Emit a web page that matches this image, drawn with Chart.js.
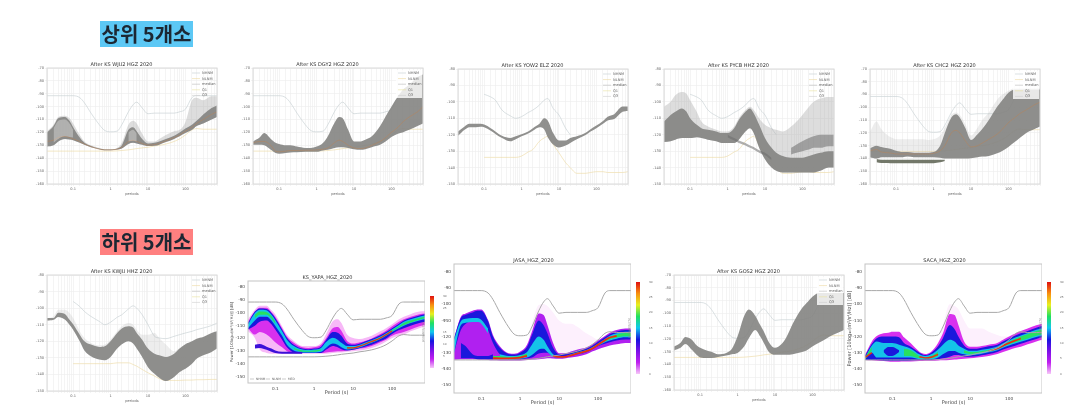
<!DOCTYPE html>
<html>
<head>
<meta charset="utf-8">
<script src="https://cdn.jsdelivr.net/npm/chart.js@4"></script>
<style>
    body { margin: 0; background: #fff; width: 1082px; height: 420px; overflow: hidden; position: relative; }
    canvas { position: absolute; filter: blur(0.55px); }
    .heading { position: absolute; left: 100px; width: 93px; height: 26px; text-align: center;
        font: bold 20px "Noto Sans CJK KR"; line-height: 26px; color: #1c2733; filter: blur(0.4px); }
</style>
</head>
<body>
<div class="heading" style="top:21px;background:#5cc8f5">상위 5개소</div>
<div class="heading" style="top:229px;background:#ff8080">하위 5개소</div>
<script>
// all series below share this period grid (seconds)
const periods = [0.02, 0.03, 0.04, 0.06, 0.08, 0.1, 0.15, 0.2, 0.3, 0.5, 0.7, 1, 1.5, 2, 3, 4, 5, 7, 10, 15, 20, 30, 50, 70, 100, 150, 200, 300, 500, 700];
const periodLabels = [0.1, 1, 10, 100];
const ticksWide = [-70, -80, -90, -100, -110, -120, -130, -140, -150, -160];
const ticksNarrow = [-80, -90, -100, -110, -120, -130, -140, -150];
const colourbarTicks = [0, 5, 10, 15, 20, 25, 30];
const colourbarStops = ['#f6c8f8', '#c020f0', '#7a10e8', '#1414e0', '#10c8f0', '#20e060', '#e8f020', '#f89010', '#e01010'];
const legendNames = ['NHNM', 'NLNM', 'median', 'Q1', 'Q3'];
const legendNamesShort = ['NHNM', 'NLNM', 'MED'];

const modelHigh = [-91.5, -91.5, -91.5, -91.5, -91.5, -91.5, -93, -97, -105, -114, -118.5, -119.5, -119, -114, -104, -98.5, -96.5, -101, -105.5, -105, -105, -105, -105, -104, -102, -93, -91.5, -91.5, -91.5, -91.5];
const modelLow = [-134.5, -134.5, -134.5, -134.5, -134.5, -134.5, -134.5, -134.5, -134.5, -134.5, -134.5, -134.5, -134.3, -134, -133.5, -133, -132.5, -132, -131.5, -130.5, -130, -129, -127, -125, -122, -118, -117, -117.5, -117.5, -117.5];
const stationHigh = [null, null, null, null, null, -95.4, -97, -99, -105, -108.5, -110, -109, -106.5, -105, -102, -99, -98, -104, -108, -116, -120, null, null, null, null, null, null, null, null, null];
const stationLow = [null, null, null, null, null, -133.8, -133.8, -133.8, -133.8, -133.8, -133.8, -133, -130.5, -129, -124, -122, -121, -126, -131, -137, -140, -143.5, -143.5, -143, -142.5, -142.5, -143, -143, -143, -142.5];
const kwjuHigh = [null, null, null, null, null, -96, -99, -102, -105, -108, -110, -108.5, -105.5, -104, -100.5, -98.6, -100, -104, -110, -117, -118, -118.4, -117, -116, -115, -114, -113, -112, -110.5, -109];
const kwjuLow = [null, null, null, null, null, -133.5, -133.5, -133.5, -133.5, -133.5, -133.5, -133.5, -133, -133, -133, -134, -135, -137, -139, -141, -142.5, -143.6, -143.6, -143.6, -143.4, -143.4, -143.2, -143.2, -143, -143];

const wju2Faint = [-119, -114, -108, -107, -109, -113, -122, -127, -130, -132, -133, -133, -132, -128, -114, -111, -113, -121, -127, -127, -125, -122, -119, -118, -112, -95, -93, -95, -92, -92];
const wju2High = [-120, -115, -109, -108, -111, -116, -124, -128, -130.5, -132.5, -133.2, -133.2, -132.5, -130, -118, -116, -119, -125, -128.5, -128, -127, -125, -122.5, -120, -117, -114, -111, -106, -101, -99];
const wju2Low = [-131, -130, -127, -125, -125.5, -126, -128, -129.5, -131.5, -133, -133.8, -133.8, -133.3, -132.5, -129, -128, -128.5, -129.5, -130.5, -130.3, -129.5, -127.5, -125, -123, -120.5, -118, -115, -113, -110, -108];
const wju2Median = [-127, -126, -124, -123, -124, -125, -127, -129, -131, -133, -133.5, -133.5, -133, -131.5, -127, -126, -127, -128.5, -129.8, -129.5, -128.5, -126.5, -124, -122, -119, -116, -113, -110, -106, -104];
const wju2InnerHigh = [null, -117, -111, -110, -113, -118, null, null, null, null, null, null, null, null, -120, -118, -121, null, null, null, null, null, null, null, null, null, null, null, null, null];
const wju2InnerLow = [null, -128, -125, -123, -123.5, -124, null, null, null, null, null, null, null, null, -127, -126.5, -127, null, null, null, null, null, null, null, null, null, null, null, null, null];

const dgy2High = [-127, -124, -120.5, -125, -128, -129, -130, -130, -131, -132, -132, -131, -128, -123, -112.7, -108, -109, -118, -127, -127, -125.7, -123, -115, -107.6, -100, -92, -87, -83, -77, -75];
const dgy2Low = [-129.6, -129.6, -130, -133.5, -136, -136.6, -136, -135.5, -135.3, -135, -135, -135, -134, -133.5, -132, -131.5, -131.5, -132, -133, -133.5, -133, -131.4, -129.6, -127, -123.6, -121, -120, -118, -115, -113];
const dgy2Median = [-128, -127, -127, -130, -134.5, -135, -134.5, -134, -134, -133.8, -133.8, -133.5, -133, -132, -128, -126, -127, -130, -132, -132.5, -132, -130, -127, -124, -120, -116, -112, -108, -104, -100];

const yow2High = [-118, -115, -113.4, -113.4, -113.4, -113.8, -116, -118, -120.7, -122, -121, -119.7, -118, -116, -113.4, -110, -111.4, -119, -123.5, -123.5, -122, -121, -119, -116.6, -114.4, -111.6, -109, -107.5, -102.9, -102.9];
const yow2Low = [-120.7, -117, -115.4, -115.4, -115.2, -115.4, -117.6, -119.5, -122, -124, -122.7, -121, -119.3, -117.6, -115.4, -116.6, -121.5, -126, -127.8, -126.6, -125, -122.7, -120.3, -118, -116, -113.4, -111.4, -110.5, -106, -105.5];

const pycbFaint = [-103, -100, -96, -94, -95, -99, -106, -112, -115, -117, -118, -118, -115, -110, -105, -103, -105, -110, -114, -116, -117, -118, -115, -112, -108, -103, -100, -98, -97, -97];
const pycbHigh = [-112, -108, -106, -104, -106, -110, -114, -116, -117, -118, -119, -119, -116, -111, -106, -104, -107, -114, -122, -128, -131, -133, -134, -134, -134, -133, -132, -131, -130, -130];
const pycbLow = [-124.5, -124, -123, -122, -122, -122, -121.5, -122, -123, -124, -125, -125, -125, -123, -118, -116, -119, -128, -135, -140, -142, -143, -143, -143, -143, -143, -143, -142, -140, -140];
const pycbStripeHigh = [null, null, null, null, null, null, null, null, null, null, null, -120, -122, -123.5, -125, -126.5, -127.5, -129.5, -131, -134, null, null, -128, -126, -124, -122, -121, -120, -120, -120];
const pycbStripeLow = [null, null, null, null, null, null, null, null, null, null, null, -121.5, -123.5, -125, -126.5, -128, -129, -131, -132.5, -135.5, null, null, -132, -131, -130, -129, -128, -128, -127, -127];

const chc2Faint = [-119, -111, -117, -122, -124, -125, -125, -125, -125, -125, -125.5, -125, -122, -116, -106, -104, -106, -113, -122, -116, -110, -104, -94, -90, -87, -85, -85, -85, -85, -85];
const chc2High = [-132, -130, -131, -132, -133, -134, -135, -135, -135.5, -135.5, -135.5, -135, -130, -120, -108, -105.5, -108, -116, -125.5, -121, -117, -110, -99.6, -94, -88.5, -86, -86, -86, -86, -86];
const chc2Low = [-139, -140, -139, -139, -139, -139, -139, -138.5, -139, -139, -139, -139, -139.5, -140, -140, -140, -140, -140, -139.8, -139, -138.5, -138, -136, -134, -131, -127, -124, -120, -117, -115];
const chc2TrackHigh = [null, -140.5, -141, -141, -141, -141, -141, -141, -141, -141, -141, -141, -141, -141, null, null, null, null, null, null, null, null, null, null, null, null, null, null, null, null];
const chc2TrackLow = [null, -143, -143.5, -143.5, -143.7, -143.7, -143.7, -143.7, -143.7, -143.7, -143.7, -143.7, -143, -142, null, null, null, null, null, null, null, null, null, null, null, null, null, null, null, null];
const chc2Median = [-134, -133, -135, -135.5, -136, -136.5, -136.5, -136.5, -136.5, -136.5, -136.5, -136, -134, -130, -120, -118, -120, -126, -131, -130, -128, -125, -121, -117, -112, -108, -105, -102, -98, -96];

const kwjuFaint = [-106, -105, -101, -101, -103, -106, -114, -118, -121, -122.5, -122, -119, -114, -111, -109, -110, -113, -116, -116, -115, -118, -122, -126, -124, -121.8, -120, -118.4, -117.4, -115, -114];
const kwjuBandHigh = [-106, -106, -102.8, -103.5, -107, -109.7, -116, -120, -122, -123.4, -123, -120, -115, -112.3, -111, -111.7, -115, -119, -124.4, -127.5, -128.5, -129.5, -127.5, -124.4, -121.8, -120, -118.4, -117.4, -115, -114];
const kwjuBandLow = [-107.5, -107, -105.3, -106.9, -110, -113, -120, -125.5, -129, -131, -131.5, -129.5, -124.4, -121.8, -120, -121.4, -124.4, -129.5, -135.6, -139.6, -142, -144, -141.6, -138.6, -136.6, -133.5, -130.5, -128.5, -126.5, -124.4];

const gos2High = [-126, -123, -118.6, -120.7, -125, -127, -129, -130, -132, -131, -128, -118, -102, -97, -102, -109, -114, -123, -127, -124, -119, -108, -97, -92, -87, -84, -84, -84, -84, -84];
const gos2Low = [-129, -127, -124, -128.5, -132.4, -134.5, -135, -135, -134.2, -133, -132, -131, -126, -119.5, -113, -118, -123, -130.5, -132.5, -132.5, -132.5, -132, -130.5, -129, -126, -123, -121, -118, -115, -113];

const yapaPinkHigh = [-105, -97.5, -94.4, -94.4, -98, -101, -110.5, -117, -122, -126, -126, -126, -123.6, -117, -106.6, -105, -108, -117, -119.7, -120.5, -119.7, -118, -114.5, -112, -109, -105, -103, -101, -99, -98.8];
const yapaPinkLow = [-114.5, -119.7, -128.8, -131.4, -132, -132, -132, -132, -132, -132, -132, -132, -132, -132, -131.4, -131, -131, -130.5, -130, -129.5, -129, -127.5, -125, -122.5, -119.7, -118, -117, -114.5, -112, -110.5];
const yapaMagentaHigh = [-107, -99, -96, -96, -99.5, -103, -112, -118.5, -123.5, -127, -127.5, -127, -125, -120, -112, -111, -114, -122, -124, -123, -122, -120, -116.5, -114, -110.5, -107, -105, -103, -101, -100.5];
const yapaMagentaLow = [-112, -117, -115, -117, -120, -123, -127, -130, -131.5, -131.5, -131.5, -131.5, -131.5, -131, -130.5, -130, -130, -129.5, -129, -128, -127.5, -126, -123, -121, -118, -116, -115, -113, -110.5, -109.5];
const yapaBlueHigh = [-108, -99, -96.5, -97, -100, -104, -113, -119.5, -125, -128, -128.5, -128, -126.5, -121.5, -115, -115.5, -118, -124, -125, -124, -122.5, -120.5, -117.5, -115, -112, -108.5, -106, -104, -102, -101];
const yapaBlueLow = [-113, -110, -107, -106, -109, -113, -121, -127, -131, -131.5, -131.5, -131.5, -131.5, -129, -126, -127, -128.5, -129.5, -129, -127.5, -126.5, -125, -122, -120, -116.5, -113.5, -112, -110, -108, -107];
const yapaCyanHigh = [-109, -100, -97.5, -98, -101.5, -105.5, -114.5, -121, -126, -128.8, -129.2, -128.8, -127.5, -123, -119.5, -121, -123.5, -126, -126, -125, -123.5, -121.5, -118.5, -116, -113, -109.5, -107, -105, -103, -102];
const yapaCyanLow = [-112, -106, -103, -103, -106, -110, -118, -125, -129.5, -131, -131, -131, -130.5, -127.5, -124, -125, -127, -128.8, -128.2, -127, -125.5, -123.5, -120.5, -118, -115, -112, -110, -108, -106, -105];
const yapaGreenHigh = [null, -101.5, -99, -99.5, -102.5, -107, null, null, -127.5, -129.5, -129.8, -129.5, -128.5, null, null, null, null, -127, -127, -125.8, -124.3, -122.2, -119.3, -116.8, -113.5, -110.5, -108, -106, -104, -103];
const yapaGreenLow = [null, -104, -101.5, -101.5, -104.5, -108.5, null, null, -128.5, -130.5, -130.5, -130.5, -129.5, null, null, null, null, -128.2, -127.8, -126.4, -124.9, -122.8, -120, -117.4, -114.5, -111.5, -109.5, -107.5, -105.3, -104.3];
const yapaHot = [null, null, null, null, null, null, null, null, null, null, null, null, null, null, null, null, null, -127.4, -127.4, -126, -124.6, -122.5, -119.7, -117.1, -114.2, null, null, null, null, null];
const yapaFloorHigh = [null, -125, -124.5, -126.5, -128, -129.5, -130.5, -130.5, -130.5, -130.5, null, null, null, null, null, null, null, null, null, null, null, null, null, null, null, null, null, null, null, null];
const yapaFloorLow = [null, -128, -127.5, -129, -130.5, -131.5, -132, -132, -132, -132, null, null, null, null, null, null, null, null, null, null, null, null, null, null, null, null, null, null, null, null];

const jasaPaleHigh = [-121, -107.7, -105.7, -104, -103.2, -103.2, -109.8, -119, -126, -130.3, -130.7, -129.3, -125, -112, -100.5, -100, -101, -105, -110, -112, -112, -114, -118, -120, -122, -119.6, -117.6, -116, -115, -115];
const jasaMagentaHigh = [-121, -107.7, -105.7, -104, -103.2, -103.2, -109.8, -119, -126, -130.3, -130.7, -129.3, -125, -117, -105.7, -106.7, -112.9, -124, -130.3, -130.3, -129.3, -128, -126.8, -125, -122.5, -119.6, -117.6, -116, -115, -115];
const jasaMagentaLow = [-134.4, -134, -134, -134, -134.2, -134.4, -134.5, -134.7, -134.8, -134.8, -134.8, -134.8, -134.6, -134.3, -134, -133.7, -133.4, -133.6, -133.8, -133.4, -133, -132.4, -131, -129.3, -127.8, -126.5, -125.6, -124.8, -124, -124];
const jasaBlueHigh = [-121, -108.5, -106.5, -105, -104, -104, -110.5, -120, -127, -130.8, -131.2, -130, -126.5, -119, -110, -113, -118, -127, -131, -131, -130, -128.8, -127.5, -125.8, -123.2, -120.5, -118.5, -117, -116, -116];
const jasaBlueLow = [-130, -116, -112, -110, -109, -110, -116, -124, -131, -134, -134, -134, -133.5, -133, -130.5, -130, -130, -132.5, -133, -132.5, -132, -131, -129.7, -128, -126, -124.5, -123.5, -122.5, -121.8, -121.8];
const jasaCyanHigh = [-122, -110.5, -109, -108.5, -108.5, -109.5, -115, null, -131, -132, -132, -131.5, -129.5, -125, -120, -122, -126, -131, -132, -132, -131, -129.8, -128.3, -126.7, -124.3, -121.5, -119.5, -118, -117, -117];
const jasaCyanLow = [-130, -113, -111.5, -111, -111, -112, -118, null, -133.5, -134, -134, -133.8, -133, -131.5, -128, -127.5, -129.5, -132.5, -133, -132.6, -132, -131, -129.5, -128, -125.7, -123.5, -122.4, -121.3, -120.5, -120.5];
const jasaGreenHigh = [null, null, null, null, null, null, null, -132, -132, -132.5, -132.5, -132, -130.5, null, null, null, null, -131.6, -132.4, -132.3, -131.4, -130.2, -128.7, -127.1, -124.7, -122, -120.3, -118.8, -117.8, -117.8];
const jasaGreenLow = [null, null, null, null, null, null, null, -134, -134, -134, -134, -133.5, -132.5, null, null, null, null, -132.2, -132.8, -132.4, -131.6, -130.6, -129.1, -127.6, -125.3, -123, -121.8, -120.6, -119.8, -119.8];
const jasaHot = [null, null, null, null, null, null, null, -133.4, -133.5, -133.5, -133.4, -133, -132, null, null, null, null, -132, -132.6, -132.4, -131.6, -130.5, -129, -127.5, -125, -122.3, -120.6, -119.5, null, null];
const jasaFloorHigh = [null, -124, -126, -131, -132, -132, -132, -131, null, null, null, null, null, null, null, null, null, null, null, null, null, null, null, null, null, null, null, null, null, null];
const jasaFloorLow = [null, -133.5, -133.5, -133.5, -134, -134, -134, -134, null, null, null, null, null, null, null, null, null, null, null, null, null, null, null, null, null, null, null, null, null, null];

const sacaPaleHigh = [-131.4, -123, -119.7, -118, -117.6, -117, -117, -120.5, -124.2, -129.4, -130.8, -129.4, -124, -113, -100, -101, -103, -110, -115, -115, -115, -117, -119, -120, -120, -118, -116.6, -115, -113, -112];
const sacaMagentaHigh = [-131.4, -123, -119.7, -118, -117.6, -117, -117, -120.5, -124.2, -129.4, -130.8, -129.4, -124, -118, -106, -106.7, -112.9, -123, -126.3, -126.3, -125.9, -125, -124, -122, -120, -118, -116.6, -115, -113, -112];
const sacaMagentaLow = [-134.5, -134.7, -135, -135.2, -135.4, -135.6, -135.6, -135.5, -135.4, -135.2, -135, -135, -134.8, -134.7, -134.5, -134.2, -134, -133.8, -133.5, -133, -132.6, -132, -130.8, -129.5, -128.3, -127, -126.3, -124.8, -123, -122];
const sacaBlueHigh = [-132, -124.5, -121, -120, -120, -120, -120.5, -124, -126.3, -130, -131.5, -130, -126, -121, -112.9, -115.5, -120, -125.5, -127.5, -127.5, -127, -126, -125, -123, -121.2, -119.2, -118, -116.5, -114.5, -113.5];
const sacaBlueLow = [-134.5, -134.5, -134.6, -134.8, -135, -135, -135, -135, -134.8, -134.5, -134.5, -134.5, -134, -133.5, -132.5, -131.5, -131.5, -132.5, -132.5, -132.2, -131.6, -130.8, -129.5, -128, -126.8, -125.5, -124.5, -123, -121.5, -120.5];
const sacaCyanHigh = [-133, -125.5, -123, -124, -124, -124, -125, -126, -127.5, -131, -132, -131, -128, -125, -122, -123, -125.5, -127.5, -128.8, -128.8, -128.2, -127.5, -126.2, -124.2, -122.5, -120.5, -119.3, -117.8, -115.8, -115];
const sacaCyanLow = [-134, -130, -133, -133, -133, -133, -133, -133, -133, -134, -134, -134, -133, -131, -129, -129, -130, -131, -131.6, -131.2, -130.6, -129.8, -128.5, -127, -125.6, -124.2, -123.2, -122, -120.3, -119.3];
const sacaHoleHigh = [null, null, null, -128.5, -126.5, -126.5, -128.5, null, null, null, null, null, null, null, null, null, null, null, null, null, null, null, null, null, null, null, null, null, null, null];
const sacaHoleLow = [null, null, null, -129.5, -132, -132, -129.5, null, null, null, null, null, null, null, null, null, null, null, null, null, null, null, null, null, null, null, null, null, null, null];
const sacaGreenHigh = [-133, -126.5, null, null, null, null, null, -127.5, -128.5, -132, -132.8, -132, -129.5, null, null, null, null, -128.5, -129.6, -129.6, -129, -128.3, -127, -125, -123.2, -121.2, -120, -118.6, -116.6, -115.8];
const sacaGreenLow = [-134, -129, null, null, null, null, null, -132, -132, -133.5, -133.5, -133.5, -132, null, null, null, null, -130.2, -130.8, -130.4, -129.8, -129, -127.7, -126.2, -124.8, -123.4, -122.4, -121.2, -119.5, -118.5];
const sacaHot = [-133, -130, null, null, null, null, null, null, null, -132.5, -133.2, -132.8, -131, null, null, null, null, null, null, null, null, -128.8, -127.4, -125.7, -124, -122.3, -121.2, null, null, null];

const fontName = '"DejaVu Sans"';
const grey = { core: 'rgba(132,132,130,0.9)', faint: 'rgba(170,170,170,0.4)', soft: 'rgba(175,175,175,0.22)', stripe: 'rgba(110,110,110,0.55)', high: '#c3ccd0', low: '#ecd9a0', median: 'rgba(190,130,80,0.75)' };
const pdf = { pale: '#fdf0fd', pink: '#f7b8f7', magenta: '#d830ee', blue: '#1a18dc', cyan: '#14c4e8', green: '#28e060', hot: '#ee2a10', model: '#a8a8a8' };

const toPoints = (values) => periods.map((p, i) => ({ x: p, y: values[i] }));

const lineSet = (values, color, width) => ({
    data: toPoints(values),
    borderColor: color,
    borderWidth: width,
    pointRadius: 0,
    fill: false,
    cubicInterpolationMode: 'monotone',
});

// a filled band is two datasets, the upper one fills down to the next
const bandSets = (upper, lower, color) => [
    { data: toPoints(upper), borderWidth: 0, pointRadius: 0, backgroundColor: color, fill: '+1', cubicInterpolationMode: 'monotone' },
    { data: toPoints(lower), borderWidth: 0, pointRadius: 0, fill: false, cubicInterpolationMode: 'monotone' },
];

// frame round the plot, plus the small legend drawn inside it
const panelExtras = {
    id: 'panelExtras',
    afterDatasetsDraw(chart, args, opts) {
        const { ctx, chartArea: area } = chart;
        ctx.save();
        if (opts.names) {
            ctx.font = (opts.inline ? '3px ' : '3.6px ') + fontName;
            ctx.textBaseline = 'middle';
            if (opts.boxed) {
                ctx.fillStyle = 'rgba(255,255,255,0.8)';
                ctx.fillRect(area.right - 27, area.top + 2, 26, 28);
            }
            opts.names.forEach((name, i) => {
                let x = area.right - 25;
                let y = area.top + 5 + i * 5.6;
                let run = 8;
                if (opts.inline) {
                    x = area.left + 2 + i * 16;
                    y = area.bottom - 4;
                    run = 4;
                }
                ctx.strokeStyle = opts.colors[i];
                ctx.lineWidth = 0.6;
                ctx.beginPath();
                ctx.moveTo(x, y);
                ctx.lineTo(x + run, y);
                ctx.stroke();
                ctx.fillStyle = '#666';
                ctx.fillText(name, x + run + 2, y);
            });
        }
        ctx.strokeStyle = opts.frame;
        ctx.lineWidth = 1;
        ctx.strokeRect(area.left, area.top, area.right - area.left, area.bottom - area.top);
        ctx.restore();
    },
};

const makeCanvas = (left, top, width, height) => {
    const canvas = document.createElement('canvas');
    canvas.width = width;
    canvas.height = height;
    canvas.style.left = left + 'px';
    canvas.style.top = top + 'px';
    document.body.appendChild(canvas);
    return canvas;
};

const makePanel = (box, title, datasets, yRange, yTicks, style) => {
    const gutter = style.colour ? 18 : 22;
    const footer = style.colour ? 13 : 12;
    const titleHeight = 6;
    const canvas = makeCanvas(box.left - gutter, box.top - titleHeight, box.right - box.left + gutter + 4, box.bottom - box.top + titleHeight + footer);
    const tickFont = { family: fontName, size: style.colour ? 4.2 : 3.6 };
    const tickColor = style.colour ? '#444' : '#666';
    const showGrid = !style.colour;
    return new Chart(canvas, {
        type: 'line',
        data: { datasets: datasets },
        options: {
            responsive: false,
            animation: false,
            layout: { padding: 0 },
            plugins: {
                legend: { display: false },
                tooltip: { enabled: false },
                title: {
                    display: true,
                    text: title,
                    color: '#333',
                    font: { family: fontName, size: 5, weight: 'normal', lineHeight: 1.2 },
                    padding: 0,
                },
                panelExtras: {
                    frame: style.colour ? '#c4c4c4' : '#dadada',
                    names: style.names,
                    colors: style.legendColors,
                    boxed: style.boxed,
                    inline: style.inline,
                },
            },
            scales: {
                x: {
                    type: 'logarithmic',
                    min: 0.02,
                    max: 700,
                    grid: { display: showGrid, color: '#ececec', lineWidth: 0.6, drawTicks: true, tickLength: 2 },
                    border: { display: false },
                    title: {
                        display: true,
                        text: style.colour ? 'Period (s)' : 'periods',
                        color: tickColor,
                        font: { family: fontName, size: style.colour ? 5 : 3.6 },
                        padding: 0,
                    },
                    ticks: {
                        autoSkip: false,
                        maxRotation: 0,
                        padding: 1,
                        color: tickColor,
                        font: tickFont,
                        callback: (value) => {
                            const hit = periodLabels.find((p) => Math.abs(p - value) / p < 1e-6);
                            return hit === undefined ? '' : String(hit);
                        },
                    },
                    afterBuildTicks: (scale) => {
                        if (style.colour) {
                            scale.ticks = periodLabels.map((v) => ({ value: v }));
                        }
                    },
                    afterFit: (scale) => {
                        scale.height = footer;
                    },
                },
                y: {
                    min: yRange[0],
                    max: yRange[1],
                    grid: { display: showGrid, color: '#ececec', lineWidth: 0.6, tickLength: 2 },
                    border: { display: false },
                    title: {
                        display: !!style.yTitleSize,
                        text: 'Power [10log\u2081\u2080(m\u00b2/s\u2074/Hz)] [dB]',
                        color: tickColor,
                        font: { family: fontName, size: style.yTitleSize || 4 },
                        padding: 0,
                    },
                    ticks: {
                        autoSkip: false,
                        padding: 1,
                        color: tickColor,
                        font: tickFont,
                    },
                    afterBuildTicks: (scale) => {
                        scale.ticks = yTicks.map((v) => ({ value: v }));
                    },
                    afterFit: (scale) => {
                        scale.width = gutter;
                    },
                },
            },
        },
        plugins: [panelExtras],
    });
};

const makeColourbar = (box) => {
    const canvas = makeCanvas(box.left - 8, box.top - 3, box.right - box.left + 22, box.bottom - box.top + 6);
    const fillBar = (context) => {
        const { ctx, chartArea: area } = context.chart;
        if (!area) {
            return colourbarStops[0];
        }
        const gradient = ctx.createLinearGradient(0, area.bottom, 0, area.top);
        colourbarStops.forEach((stop, i) => gradient.addColorStop(i / (colourbarStops.length - 1), stop));
        return gradient;
    };
    return new Chart(canvas, {
        type: 'bar',
        data: {
            labels: ['probability'],
            datasets: [{ data: [colourbarTicks[colourbarTicks.length - 1]], backgroundColor: fillBar, barPercentage: 1, categoryPercentage: 1 }],
        },
        options: {
            responsive: false,
            animation: false,
            layout: { padding: { top: 3, bottom: 3 } },
            plugins: { legend: { display: false }, tooltip: { enabled: false } },
            scales: {
                x: { display: false },
                y: {
                    min: 0,
                    max: 30,
                    grid: { display: false },
                    border: { display: false },
                    ticks: { display: false },
                    title: { display: true, text: 'probability [%]', color: '#888', font: { family: fontName, size: 2.8 }, padding: 0 },
                    afterFit: (scale) => { scale.width = 8; },
                },
                side: {
                    position: 'right',
                    min: 0,
                    max: 30,
                    grid: { display: false },
                    border: { display: false },
                    ticks: { color: '#666', font: { family: fontName, size: 2.8 }, padding: 1, stepSize: 5 },
                    afterFit: (scale) => { scale.width = 14; },
                },
            },
        },
    });
};

const greyLegend = [grey.high, grey.low, '#bbb', '#e8e0a0', '#ccc'];
const greyStyle = { names: legendNames, legendColors: greyLegend, boxed: true };
const plainStyle = { names: legendNames, legendColors: greyLegend };
const greyPanel = (faint, high, low, median, faintColor) => {
    let sets = [];
    if (median) {
        sets.push(lineSet(median, grey.median, 0.6));
    }
    sets = sets.concat(bandSets(high, low, grey.core));
    if (faint) {
        sets = sets.concat(bandSets(faint, low, faintColor || grey.faint));
    }
    return sets;
};
// noise model lines sit under the grey bands
const greyModels = (high, low) => [lineSet(high, grey.high, 0.6), lineSet(low, grey.low, 0.6)];
const colourBase = [pdf.model, pdf.model, pdf.model];

// top row
makePanel({ left: 47, right: 214, top: 68, bottom: 184 }, 'After KS WJU2 HGZ 2020',
    bandSets(wju2InnerHigh, wju2InnerLow, 'rgba(255,255,255,0.32)')
        .concat(greyPanel(wju2Faint, wju2High, wju2Low, wju2Median))
        .concat(greyModels(modelHigh, modelLow)),
    [-160, -70], ticksWide, plainStyle);
makePanel({ left: 253, right: 420, top: 68, bottom: 184 }, 'After KS DGY2 HGZ 2020',
    greyPanel(null, dgy2High, dgy2Low, dgy2Median).concat(greyModels(modelHigh, modelLow)),
    [-160, -70], ticksWide, greyStyle);
makePanel({ left: 458, right: 625, top: 69, bottom: 184 }, 'After KS YOW2 ELZ 2020',
    greyPanel(null, yow2High, yow2Low, null).concat(greyModels(stationHigh, stationLow)),
    [-150, -80], ticksNarrow, plainStyle);
makePanel({ left: 664, right: 831, top: 69, bottom: 184 }, 'After KS PYCB HHZ 2020',
    bandSets(pycbStripeHigh, pycbStripeLow, grey.stripe)
        .concat(greyPanel(pycbFaint, pycbHigh, pycbLow, null))
        .concat(greyModels(stationHigh, stationLow)),
    [-150, -80], ticksNarrow, plainStyle);
makePanel({ left: 870, right: 1037, top: 69, bottom: 184 }, 'After KS CHC2 HGZ 2020',
    bandSets(chc2TrackHigh, chc2TrackLow, 'rgba(100,105,90,0.9)')
        .concat(greyPanel(chc2Faint, chc2High, chc2Low, chc2Median, grey.soft))
        .concat(greyModels(modelHigh, modelLow)),
    [-160, -70], ticksWide, greyStyle);

// bottom row
makePanel({ left: 47, right: 214, top: 275, bottom: 391 }, 'After KS KWJU HHZ 2020',
    greyPanel(kwjuFaint, kwjuBandHigh, kwjuBandLow, null, grey.soft).concat(greyModels(kwjuHigh, kwjuLow)),
    [-150, -80], ticksNarrow, plainStyle);
makePanel({ left: 248, right: 421, top: 281, bottom: 383 }, 'KS_YAPA_HGZ_2020',
    [lineSet(modelHigh, pdf.model, 1), lineSet(modelLow, pdf.model, 1), lineSet(yapaHot, pdf.hot, 1.2)]
        .concat(bandSets(yapaGreenHigh, yapaGreenLow, pdf.green))
        .concat(bandSets(yapaFloorHigh, yapaFloorLow, '#3c10d8'))
        .concat(bandSets(yapaCyanHigh, yapaCyanLow, pdf.cyan))
        .concat(bandSets(yapaBlueHigh, yapaBlueLow, pdf.blue))
        .concat(bandSets(yapaMagentaHigh, yapaMagentaLow, pdf.magenta))
        .concat(bandSets(yapaPinkHigh, yapaPinkLow, pdf.pink)),
    [-155, -75], ticksNarrow, { colour: true, yTitleSize: 4, names: legendNamesShort, legendColors: colourBase, inline: true });
makePanel({ left: 454, right: 627, top: 264, bottom: 393 }, 'JASA_HGZ_2020',
    [lineSet(modelHigh, pdf.model, 1), lineSet(modelLow, pdf.model, 1), lineSet(jasaHot, pdf.hot, 1.8)]
        .concat(bandSets(jasaGreenHigh, jasaGreenLow, pdf.green))
        .concat(bandSets(jasaCyanHigh, jasaCyanLow, pdf.cyan))
        .concat(bandSets(jasaFloorHigh, jasaFloorLow, pdf.blue))
        .concat(bandSets(jasaBlueHigh, jasaBlueLow, pdf.blue))
        .concat(bandSets(jasaMagentaHigh, jasaMagentaLow, '#b020f0'))
        .concat(bandSets(jasaPaleHigh, jasaMagentaLow, pdf.pale)),
    [-155, -75], ticksNarrow, { colour: true });
makePanel({ left: 674, right: 841, top: 275, bottom: 390 }, 'After KS GOS2 HGZ 2020',
    greyPanel(null, gos2High, gos2Low, null).concat(greyModels(modelHigh, modelLow)),
    [-160, -70], ticksWide, greyStyle);
makePanel({ left: 865, right: 1038, top: 264, bottom: 393 }, 'SACA_HGZ_2020',
    [lineSet(modelHigh, pdf.model, 1), lineSet(modelLow, pdf.model, 1), lineSet(sacaHot, pdf.hot, 1.4)]
        .concat(bandSets(sacaGreenHigh, sacaGreenLow, pdf.green))
        .concat(bandSets(sacaHoleHigh, sacaHoleLow, pdf.blue))
        .concat(bandSets(sacaCyanHigh, sacaCyanLow, pdf.cyan))
        .concat(bandSets(sacaBlueHigh, sacaBlueLow, pdf.blue))
        .concat(bandSets(sacaMagentaHigh, sacaMagentaLow, pdf.magenta))
        .concat(bandSets(sacaPaleHigh, sacaMagentaLow, pdf.pale)),
    [-155, -75], ticksNarrow, { colour: true, yTitleSize: 5 });

makeColourbar({ left: 430, right: 434, top: 296, bottom: 368 });
makeColourbar({ left: 636, right: 640, top: 282, bottom: 374 });
makeColourbar({ left: 1047, right: 1051, top: 282, bottom: 374 });
</script>
</body>
</html>
